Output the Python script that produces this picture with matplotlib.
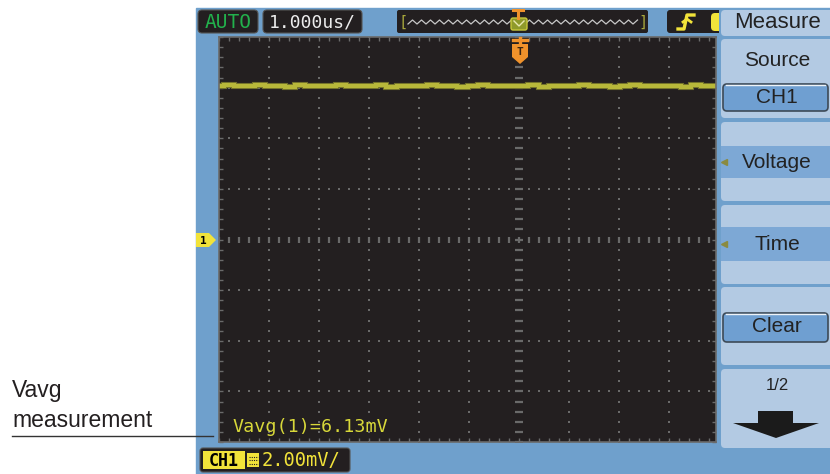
import matplotlib.pyplot as plt
import matplotlib.patches as mpatches
import numpy as np

# CH1 trace, divisions above centre (2.00 mV/div), read across the screen
trace_v = [3.04, 3.05, 3.04, 3.03, 3.05, 3.04, 3.04, 3.02, 3.05, 3.04,
           3.03, 3.04, 3.05, 3.04, 3.03, 3.04, 3.05, 3.02, 3.04, 3.04,
           3.03, 3.05, 3.04, 3.04, 3.02, 3.04, 3.05, 3.04, 3.03, 3.04,
           3.04, 3.05, 3.02, 3.04, 3.04, 3.03, 3.05, 3.04, 3.04, 3.02,
           3.04, 3.05, 3.04, 3.03, 3.04, 3.04, 3.02, 3.05, 3.04, 3.04]
x_divs = 9.94           # visible part of the 12-div screen
trig_div = 6.0          # trigger position (screen centre)

menu_title = "Measure"
menu_items = ["Source", "CH1", "Voltage", "Time", "Clear", "1/2"]
mode_label = "AUTO"
timebase = "1.000us/"
scale_label = "2.00mV/"
meas_label = "Vavg(1)=6.13mV"
note_lines = ["Vavg", "measurement"]

SCREEN = "#6fa0cc"
PANEL = "#b3cae3"
BTN = "#6f9fd1"
DARK = "#231f20"
GRIDC = "#6a6a6a"
TRACE = "#b8b83a"
MONO = "DejaVu Sans Mono"
SANS = ["Liberation Sans", "DejaVu Sans"]

fig = plt.figure(figsize=(8.3, 4.74), dpi=100)
W, H = 830, 474

bg = fig.add_axes([0, 0, 1, 1])
bg.set_xlim(0, W)
bg.set_ylim(H, 0)
bg.axis("off")
bg.add_patch(mpatches.Rectangle((196, 8), W - 196, H - 8, color=SCREEN))

# scope graticule
gx0, gx1, gy0, gy1 = 219, 716, 37, 442
ax = fig.add_axes([gx0 / W, 1 - gy1 / H, (gx1 - gx0) / W, (gy1 - gy0) / H])
ax.set_facecolor(DARK)
ax.set_xlim(0, x_divs)
ax.set_ylim(-4, 4)
for s in ax.spines.values():
    s.set_color(GRIDC)
    s.set_linewidth(1.2)
ax.set_xticks(np.arange(0, x_divs, 0.2))
ax.set_yticks(np.arange(-4, 4.01, 0.2))
ax.tick_params(which="both", direction="in", length=3, width=1, color=GRIDC,
               top=True, right=True, labelbottom=False, labelleft=False)

fine = np.arange(-4, 4.01, 0.2)
for gx in range(1, 10):
    if gx == 6:
        continue
    ax.scatter(np.full(fine.size, gx), fine, s=2.2, marker="s", color=GRIDC, lw=0)
xfine = np.arange(0, x_divs, 0.2)
for gy in range(-3, 4):
    if gy == 0:
        continue
    ax.scatter(xfine, np.full(xfine.size, gy), s=2.2, marker="s", color=GRIDC, lw=0)
ax.plot(xfine, np.zeros(xfine.size), ls="none", marker="|", ms=5, mew=1.6, color=GRIDC)
ax.plot(np.full(fine.size, trig_div), fine, ls="none", marker="_", ms=6, mew=1.6, color=GRIDC)

t = np.linspace(0, x_divs, len(trace_v))
ax.plot(t, trace_v, color="#6e6e2a", lw=4.4, drawstyle="steps-mid", solid_joinstyle="miter")
ax.plot(t, trace_v, color=TRACE, lw=3.0, drawstyle="steps-mid", solid_joinstyle="miter")

# overlay for screen decorations
fg = fig.add_axes([0, 0, 1, 1])
fg.set_xlim(0, W)
fg.set_ylim(H, 0)
fg.axis("off")
fg.patch.set_alpha(0)


def rbox(x0, y0, x1, y1, fc, ec="none", lw=0, r=4, z=2):
    fg.add_patch(mpatches.FancyBboxPatch((x0, y0), x1 - x0, y1 - y0,
                                         boxstyle=f"round,pad=0,rounding_size={r}",
                                         fc=fc, ec=ec, lw=lw, zorder=z))


# top status bar
rbox(198, 10, 258, 33, DARK, ec="#555", lw=0.8)
fg.text(228, 22, mode_label, color="#22b14c", fontsize=14, family=MONO,
        ha="center", va="center", zorder=3)
rbox(263, 10, 362, 33, DARK, ec="#555", lw=0.8)
fg.text(312, 22, timebase, color="#ececec", fontsize=13, family=MONO,
        ha="center", va="center", zorder=3)

rbox(397, 10, 648, 33, DARK, r=2)
fg.text(403, 22, "[", color="#a8a83c", fontsize=11, family=MONO, ha="center", va="center", zorder=3)
fg.text(643, 22, "]", color="#a8a83c", fontsize=11, family=MONO, ha="center", va="center", zorder=3)
zz = np.arange(408, 640, 4.5)
fg.plot(zz, np.where(np.arange(zz.size) % 2 == 0, 24, 20), color="#c8c8c8", lw=0.9, zorder=3)
rbox(511, 18, 527, 30, "#8f9a2a", ec="#c8c83a", lw=1, r=2, z=4)
fg.plot([514, 519, 524], [21, 26, 21], color="#e8e8b0", lw=1, zorder=5)
fg.plot([513, 523], [10, 10], color="#f0922b", lw=2.2, zorder=5)
fg.plot([518, 518], [10, 18], color="#f0922b", lw=2.2, zorder=5)

rbox(667, 10, 725, 33, DARK, r=3)
fg.plot([678, 684, 687, 694], [29, 29, 15, 15], color="#f2e33a", lw=2.4, zorder=2)
fg.plot([683, 687, 691], [22, 19, 22], color="#f2e33a", lw=2.0, zorder=2)
rbox(711, 13, 725, 31, "#f2e33a", r=4, z=2)

# trigger position marker
fg.add_patch(mpatches.Polygon([(512, 44), (528, 44), (528, 57), (520, 64), (512, 57)],
                              closed=True, fc="#f0922b", ec="none", zorder=5))
fg.plot([513, 527], [40, 40], color="#f0922b", lw=2.4, zorder=5)
fg.plot([520, 520], [38, 45], color="#f0922b", lw=2.4, zorder=5)
fg.text(520, 52, "T", color="#3a2410", fontsize=8, weight="bold", family=MONO,
        ha="center", va="center", zorder=6)

# channel 1 marker
fg.add_patch(mpatches.Polygon([(196, 233), (209, 233), (216, 240), (209, 247), (196, 247)],
                              closed=True, fc="#f2e33a", ec="none", zorder=5))
fg.text(203, 240.5, "1", color="black", fontsize=8, weight="bold", family=MONO,
        ha="center", va="center", zorder=6)

# measurement readout
fg.text(232, 427, meas_label, color="#d8d83a", fontsize=13.2, family=MONO,
        ha="left", va="center", zorder=6)

# bottom channel scale
rbox(200, 448, 350, 472, DARK, ec="#555", lw=0.8, r=3)
fg.add_patch(mpatches.Rectangle((203, 451), 42, 18, fc="#f2e33a", zorder=3))
fg.text(224, 460.5, "CH1", color="black", fontsize=12, weight="bold", family=MONO,
        ha="center", va="center", zorder=4)
fg.add_patch(mpatches.Rectangle((247, 453), 12, 14, fc="#f2e33a", zorder=3))
for yy in (456.5, 460, 463.5):
    fg.plot([248.5, 257.5], [yy, yy], color=DARK, lw=0.8, ls=(0, (1, 1)), zorder=4)
fg.text(262, 460.5, scale_label, color="#f2e33a", fontsize=13.5, family=MONO,
        ha="left", va="center", zorder=4)

# soft-key menu (drawn over the right edge of the status bar)
fg.add_patch(mpatches.Rectangle((719, 8), W - 719, 30, fc=SCREEN, zorder=6))
rbox(721, 10, 834, 36, PANEL, r=4, z=6)
fg.text(777, 22, menu_title, color="#222", fontsize=16, family=SANS,
        ha="center", va="center", zorder=7)
boxes = [(39, 118), (122, 201), (205, 284), (287, 365), (369, 448)]
for y0, y1 in boxes:
    rbox(721, y0, 834, y1, PANEL, r=4)
for y0, y1 in [(146, 178), (227, 261)]:
    fg.add_patch(mpatches.Rectangle((721, y0), 113, y1 - y0, fc="#7da8d5", zorder=3))
for y0, y1 in [(84, 111), (313, 342)]:
    rbox(723, y0, 828, y1, BTN, ec="#3d4a57", lw=1.2, r=4, z=3)
    fg.plot([726, 825], [y0 + 1, y0 + 1], color="#eef3f8", lw=1, zorder=4)

menu_y = [60, 97, 162, 244, 327, 386]
for label, y in zip(menu_items, menu_y):
    fs = 12 if label == "1/2" else 15
    fg.text(777, y, label, color="#222", fontsize=fs, family=SANS,
            ha="center", va="center", zorder=5)
for y in (162, 244):
    fg.plot([724], [y], marker="<", ms=5, color="#8a8a40", zorder=5)

fg.add_patch(mpatches.Polygon([(758, 411), (793, 411), (793, 423), (819, 423),
                               (776, 438), (733, 423), (758, 423)],
                              closed=True, fc="#1b1b1b", ec="none", zorder=5))

# annotation on the left
fg.text(12, 397, note_lines[0], color="#231f20", fontsize=16.5,
        family=["Liberation Sans Narrow", "Liberation Sans"], ha="left", va="baseline")
fg.text(12, 427, note_lines[1], color="#231f20", fontsize=16.5,
        family=["Liberation Sans Narrow", "Liberation Sans"], ha="left", va="baseline")
fg.plot([12, 213], [436, 436], color="#333", lw=1)

fig.savefig("out.png", dpi=100)
